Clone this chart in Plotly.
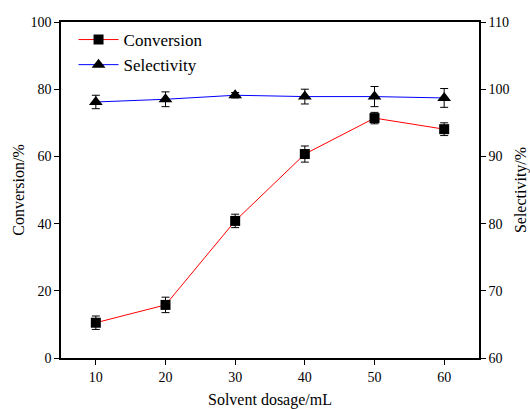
import plotly.graph_objects as go

dosage = [10, 20, 30, 40, 50, 60]
conversion = [10.5, 15.8, 40.8, 60.7, 71.4, 68.1]
conversion_err = [2.0, 2.3, 2.0, 2.4, 1.7, 1.9]
selectivity = [98.1, 98.5, 99.1, 98.9, 98.9, 98.7]
selectivity_err = [1.0, 1.1, 0.4, 1.1, 1.5, 1.4]

font_family = "Liberation Serif"

fig = go.Figure()
fig.add_trace(go.Scatter(
    x=dosage, y=conversion, name="Conversion", mode="lines+markers",
    line=dict(color="red", width=1),
    marker=dict(symbol="square", size=10, color="black"),
    error_y=dict(type="data", array=conversion_err, color="black", thickness=1, width=4),
    yaxis="y"))
fig.add_trace(go.Scatter(
    x=dosage, y=selectivity, name="Selectivity", mode="lines+markers",
    line=dict(color="blue", width=1),
    marker=dict(symbol="triangle-up", size=12, color="black"),
    error_y=dict(type="data", array=selectivity_err, color="black", thickness=1, width=4),
    yaxis="y2"))

axis_common = dict(showgrid=False, zeroline=False, showline=True, linecolor="black",
                   linewidth=1.5, ticks="outside", ticklen=5, tickcolor="black",
                   automargin=False,
                   tickfont=dict(family=font_family, size=14, color="black"))

fig.update_layout(
    width=530, height=409,
    margin=dict(l=61, r=51, t=22, b=51),
    plot_bgcolor="white", paper_bgcolor="white",
    font=dict(family=font_family, size=14, color="black"),
    showlegend=True,
    legend=dict(x=0.03, y=1.0, xanchor="left", yanchor="top",
                bgcolor="rgba(0,0,0,0)", font=dict(family=font_family, size=17),
                itemwidth=40, tracegroupgap=0),
    xaxis=dict(range=[5, 65], tickvals=dosage, mirror=True,
               title=dict(text="Solvent dosage/mL", font=dict(family=font_family, size=16), standoff=14),
               **axis_common),
    yaxis=dict(range=[0, 100], tickvals=[0, 20, 40, 60, 80, 100],
               title=dict(text="Conversion/%", font=dict(family=font_family, size=16), standoff=2),
               **axis_common),
    yaxis2=dict(range=[60, 110], tickvals=[60, 70, 80, 90, 100, 110], overlaying="y", side="right",
                title=dict(text="Selectivity/%", font=dict(family=font_family, size=16), standoff=10),
                **axis_common),
)

fig.write_html("out.html")
